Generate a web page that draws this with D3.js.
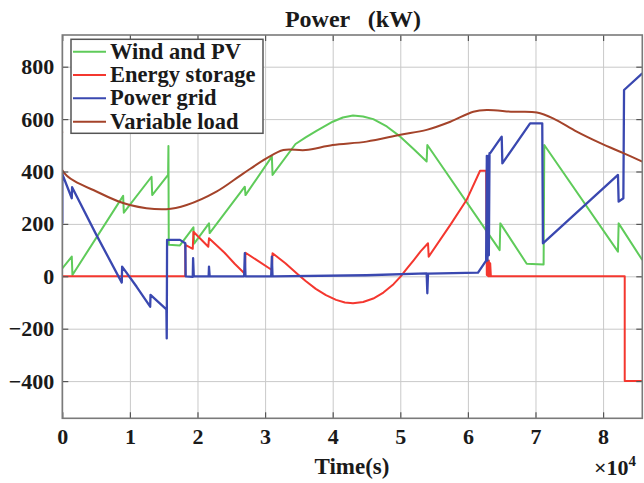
<!DOCTYPE html>
<html>
<head>
<meta charset="utf-8">
<script src="https://cdn.jsdelivr.net/npm/d3@7"></script>
<style>
  body { margin: 0; background: #fff; }
  svg { display: block; }
  text { font-family: "Liberation Serif", "Times New Roman", serif; font-weight: bold; fill: #1a1a1a; }
</style>
</head>
<body>
<svg id="chart" width="644" height="483"></svg>
<script>
// time in units of 10^4 s, power in kW
const windPV = [[0,30],[0.14,75],[0.15,5],[0.9,307],[0.91,243],[1.32,380],[1.33,310],[1.565,387],[1.57,497],[1.575,120],
  [1.74,118],[1.94,187],[1.95,125],[2.17,202],[2.18,165],[2.7,342],[2.71,310],[3.1,457],[3.11,387],[3.45,505],
  [3.6,530],[3.76,555],[4.0,590],[4.15,606],[4.3,614],[4.45,610],[4.6,600],[4.8,572],[5.0,533],[5.2,485],
  [5.39,438],[5.40,501],[6.47,100],[6.48,202],[6.87,48],[7.12,45],[7.13,501],[8.22,94],[8.23,202],[8.58,62]]

const energyStorage = [[0,0],[1.82,0],[1.82,120],[1.93,105],[1.94,170],[2.16,113],[2.17,145],[2.4,90],[2.55,48],[2.7,10],
  [2.71,90],[3.1,24],[3.11,88],[3.3,50],[3.47,11],[3.6,-18],[3.75,-48],[3.9,-72],[4.05,-90],[4.18,-100],[4.3,-103],
  [4.45,-98],[4.6,-85],[4.75,-62],[4.9,-30],[5.0,-2],[5.1,30],[5.2,62],[5.3,95],[5.41,126],[5.42,75],[5.75,200],
  [5.98,291],[6.18,403],[6.27,403],[6.28,5],[6.29,60],[6.30,0],[6.31,60],[6.32,0],[6.33,50],[6.34,0],[8.32,0],
  [8.32,-400],[8.58,-400]]

const powerGrid = [[0,202],[0,399],[0.005,387],[0.14,298],[0.145,340],[0.5,160],[0.88,-24],[0.885,37],[1.1,-40],[1.3,-116],
  [1.305,-71],[1.54,-126],[1.545,-237],[1.55,139],[1.74,139],[1.82,126],[1.825,0],[1.93,-2],[1.935,69],[1.945,0],
  [2.165,0],[2.17,37],[2.18,0],[2.69,0],[2.7,88],[2.71,0],[3.09,0],[3.1,75],[3.11,0],[4.5,4],[5.39,11],[5.40,-65],
  [5.41,10],[6.15,14],[6.27,60],[6.28,460],[6.29,60],[6.30,460],[6.31,80],[6.32,470],[6.33,470],[6.5,533],
  [6.51,431],[6.92,584],[7.1,584],[7.11,126],[8.22,387],[8.23,285],[8.3,298],[8.31,711],[8.58,775]]

const variableLoad = [[0,552],[0,405],[0.56,317],[1.0,272],[1.54,256],[1.84,272],[2.28,323],[2.68,393],[3.02,450],[3.27,482],
  [3.6,482],[4.0,501],[4.5,514],[5.0,540],[5.39,559],[5.74,590],[6.08,628],[6.28,635],[6.67,628],[7.02,625],
  [7.26,603],[7.61,552],[7.96,508],[8.3,470],[8.58,438]]

const seriesNames = ['Wind and PV', 'Energy storage', 'Power grid', 'Variable load']
const seriesColors = ['#5fcb5a', '#f4372f', '#3a48b0', '#a4432a']
const seriesData = [windPV, energyStorage, powerGrid, variableLoad]

const xTicks = [0, 1, 2, 3, 4, 5, 6, 7, 8]
const yTicks = [-400, -200, 0, 200, 400, 600, 800]

const pLeft = 62.3, pRight = 642.3, pTop = 35, pBottom = 418.3

const svg = d3.select('#chart')
const x = d3.scaleLinear().domain([0, 8.58]).range([pLeft, pRight])
const y = d3.scaleLinear().domain([-542, 921]).range([pBottom, pTop])

// grid
svg.append('g').attr('transform', `translate(0,${pBottom})`)
  .call(d3.axisBottom(x).tickValues(xTicks).tickSize(-(pBottom - pTop)).tickFormat(''))
  .call(g => g.select('.domain').remove())
  .selectAll('line').attr('stroke', '#c9c9c9').attr('stroke-width', 1)
svg.append('g').attr('transform', `translate(${pLeft},0)`)
  .call(d3.axisLeft(y).tickValues(yTicks).tickSize(-(pRight - pLeft)).tickFormat(''))
  .call(g => g.select('.domain').remove())
  .selectAll('line').attr('stroke', '#c9c9c9').attr('stroke-width', 1)

// series
svg.append('clipPath').attr('id', 'clip').append('rect')
  .attr('x', pLeft).attr('y', pTop).attr('width', pRight - pLeft).attr('height', pBottom - pTop)
const line = d3.line().x(d => x(d[0])).y(d => y(d[1]))
const smoothLine = d3.line().x(d => x(d[0])).y(d => y(d[1])).curve(d3.curveCatmullRom.alpha(0.5))
const plot = svg.append('g').attr('clip-path', 'url(#clip)')
seriesData.forEach((s, i) => {
  plot.append('path').datum(s).attr('d', s === variableLoad ? smoothLine : line)
    .attr('fill', 'none').attr('stroke', seriesColors[i])
    .attr('stroke-width', s === powerGrid ? 2.3 : 2).attr('stroke-linejoin', 'round')
})

// axes
const styleAxis = g => {
  g.select('.domain').remove()
  g.selectAll('.tick line').attr('stroke', '#555').attr('stroke-width', 1.2)
  g.selectAll('.tick text').attr('font-size', 22).attr('fill', '#1a1a1a')
}
svg.append('g').attr('transform', `translate(0,${pBottom})`)
  .call(d3.axisBottom(x).tickValues(xTicks).tickSize(-6).tickPadding(10).tickFormat(d3.format('d'))).call(styleAxis)
svg.append('g').attr('transform', `translate(0,${pTop})`)
  .call(d3.axisTop(x).tickValues(xTicks).tickSize(-6).tickFormat('')).call(styleAxis)
svg.append('g').attr('transform', `translate(${pLeft},0)`)
  .call(d3.axisLeft(y).tickValues(yTicks).tickSize(-6).tickPadding(8)).call(styleAxis)
svg.append('g').attr('transform', `translate(${pRight},0)`)
  .call(d3.axisRight(y).tickValues(yTicks).tickSize(-6).tickFormat('')).call(styleAxis)

svg.append('rect').attr('x', pLeft).attr('y', pTop).attr('width', pRight - pLeft).attr('height', pBottom - pTop)
  .attr('fill', 'none').attr('stroke', '#7a7a7a').attr('stroke-width', 1.6)

// title and labels
svg.append('text').attr('x', 353).attr('y', 27).attr('text-anchor', 'middle').attr('font-size', 24)
  .style('white-space', 'pre').text('Power   (kW)')
svg.append('text').attr('x', 352).attr('y', 474).attr('text-anchor', 'middle').attr('font-size', 23).text('Time(s)')
const mult = svg.append('text').attr('x', 594).attr('y', 475).attr('font-size', 22)
mult.append('tspan').text('×10')
mult.append('tspan').attr('dy', -9).attr('font-size', 15).text('4')

// legend
const legend = svg.append('g')
legend.append('rect').attr('x', 71).attr('y', 39.3).attr('width', 192).attr('height', 94)
  .attr('fill', '#fff').attr('stroke', '#555').attr('stroke-width', 1.5)
const rowY = [51.7, 75, 98.3, 121.7]
seriesNames.forEach((name, i) => {
  legend.append('line').attr('x1', 73).attr('x2', 106).attr('y1', rowY[i]).attr('y2', rowY[i])
    .attr('stroke', seriesColors[i]).attr('stroke-width', 2)
  legend.append('text').attr('x', 110).attr('y', rowY[i] + 7).attr('font-size', 22.5).text(name)
})
</script>
</body>
</html>
